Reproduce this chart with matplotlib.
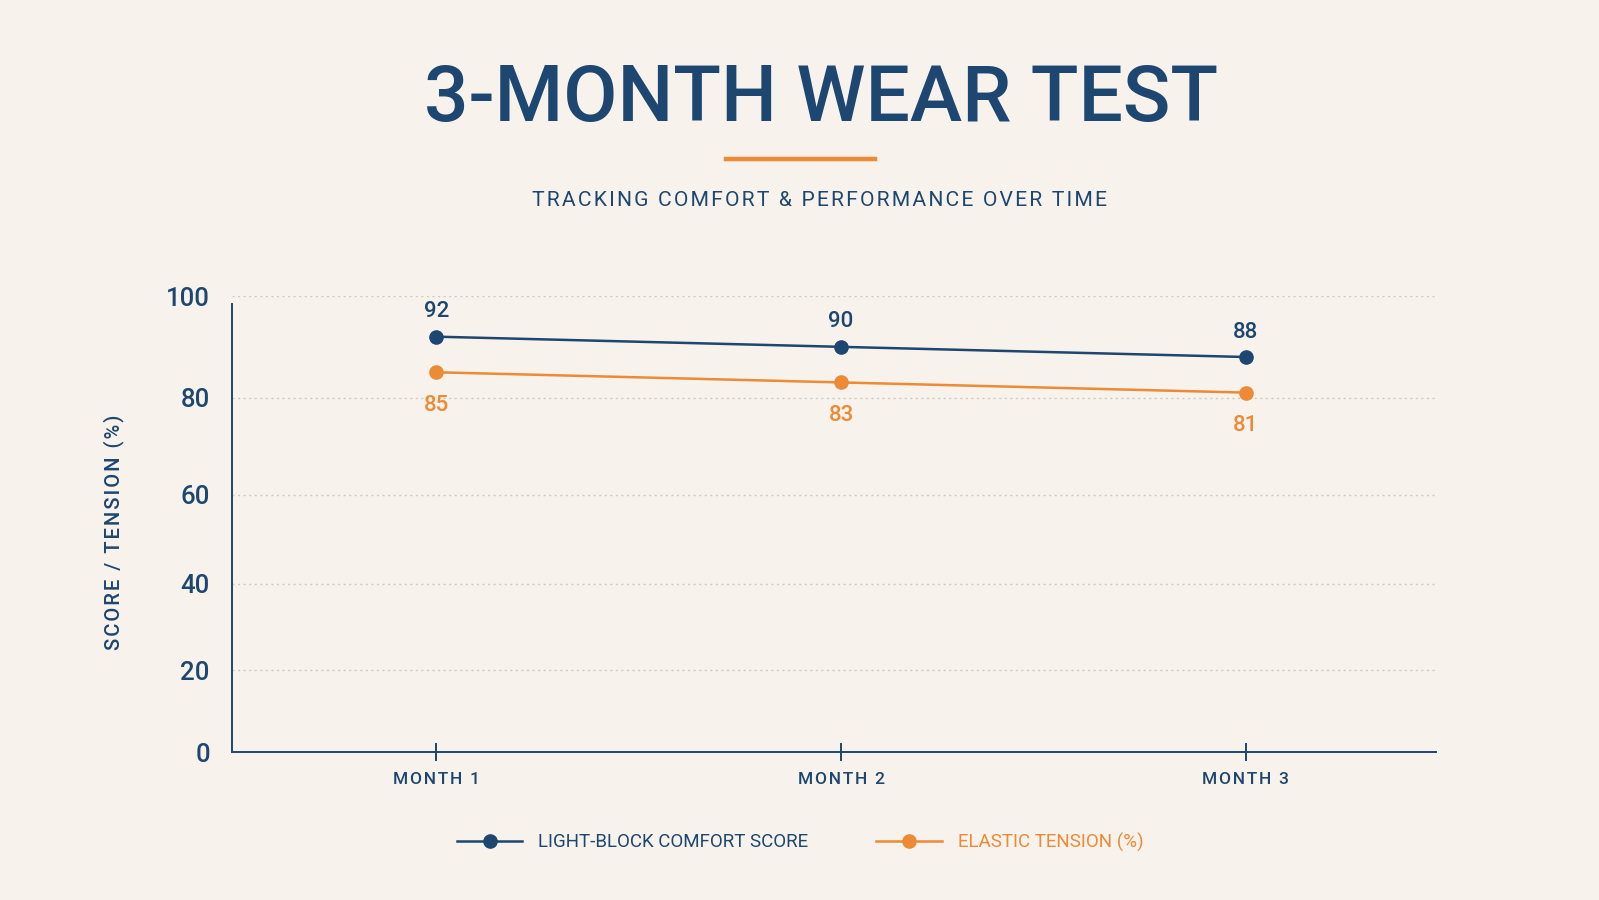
import numpy as np
import matplotlib
matplotlib.use("Agg")
import matplotlib.pyplot as plt
from matplotlib.lines import Line2D

# ---- data ----
months = ["MONTH 1", "MONTH 2", "MONTH 3"]
comfort = [92, 90, 88]
tension = [85, 83, 81]
series_names = ["LIGHT-BLOCK COMFORT SCORE", "ELASTIC TENSION (%)"]
y_ticks = [0, 20, 40, 60, 80, 100]

title = "3-MONTH WEAR TEST"
subtitle = "TRACKING COMFORT & PERFORMANCE OVER TIME"
ylabel = "SCORE / TENSION (%)"

# ---- style ----
BG = "#f7f2eb"
NAVY = "#1d4670"
ORANGE = "#ec8a35"
GRID = "#cfc9c1"
FAM = ["Roboto", "DejaVu Sans"]
plt.rcParams["font.family"] = FAM

def spaced(s, sp="\u200a"):
    return sp.join(s)

# tick positions as axis fractions (visual spacing of the reference grid)
tick_frac = [0.0, 0.1798, 0.369, 0.5636, 0.777, 1.0]

def fwd(v):
    return np.interp(v, y_ticks, tick_frac)

def inv(f):
    return np.interp(f, tick_frac, y_ticks)

fig = plt.figure(figsize=(15.99, 9.0), dpi=100, facecolor=BG)
ax = fig.add_axes([232 / 1599, 1 - 752 / 900, (1436 - 232) / 1599, (752 - 296) / 900])
ax.set_facecolor(BG)
ax.set_yscale("function", functions=(fwd, inv))
x = np.arange(len(months))
ax.set_xlim(-0.505, 2.47)
ax.set_ylim(0, 100)

ax.plot(x, comfort, color=NAVY, lw=1.8, marker="o", ms=9.5, zorder=3)
ax.plot(x, tension, color=ORANGE, lw=1.8, marker="o", ms=9.5, zorder=3)

for xi, v in zip(x, comfort):
    ax.annotate(str(v), (xi, v), xytext=(0, 18), textcoords="offset points",
                ha="center", va="center", fontsize=16, color=NAVY, fontweight="medium")
for xi, v in zip(x, tension):
    ax.annotate(str(v), (xi, v), xytext=(0, -24), textcoords="offset points",
                ha="center", va="center", fontsize=16, color=ORANGE, fontweight="medium")

ax.set_yticks(y_ticks)
ax.set_yticklabels([str(t) for t in y_ticks], fontsize=18.5, color=NAVY, fontweight="medium")
ax.tick_params(axis="y", length=0, pad=16)
ax.set_xticks(x)
ax.set_xticklabels([spaced(m) for m in months], fontsize=12.5, color=NAVY, fontweight="medium")
ax.tick_params(axis="x", direction="inout", length=13, width=1.4, color=NAVY, pad=8)

ax.yaxis.grid(True, color=GRID, linestyle=(0, (1.5, 2.5)), lw=1.0)
ax.set_axisbelow(True)
for s in ["top", "right"]:
    ax.spines[s].set_visible(False)
for s in ["left", "bottom"]:
    ax.spines[s].set_color(NAVY)
    ax.spines[s].set_linewidth(1.4)
ax.spines["left"].set_bounds(0, 98.5)

fig.text(114 / 1599, 1 - 532 / 900, spaced(ylabel), rotation=90, ha="center", va="center",
         fontsize=14.5, color=NAVY, fontweight="medium")

# titles
fig.text(821 / 1599, 1 - 100 / 900, title, ha="center", va="center",
         fontsize=56.5, color=NAVY, fontweight="medium")
fig.add_artist(Line2D([726 / 1599, 875 / 1599], [1 - 159 / 900] * 2, color=ORANGE, lw=3.2,
                      transform=fig.transFigure))
fig.text(819 / 1599, 1 - 201 / 900, spaced(subtitle), ha="center", va="center",
         fontsize=15.2, color=NAVY)

handles = [Line2D([], [], color=NAVY, lw=1.8, marker="o", ms=9.5),
           Line2D([], [], color=ORANGE, lw=1.8, marker="o", ms=9.5)]
leg = fig.legend(handles, series_names, loc="center",
                 bbox_to_anchor=(800 / 1599, 1 - 842 / 900), ncol=2, frameon=False,
                 fontsize=13.5, handlelength=3.5, handletextpad=0.85, columnspacing=3.6,
                 labelcolor=[NAVY, ORANGE])

fig.savefig("out.png", dpi=100, facecolor=BG)
